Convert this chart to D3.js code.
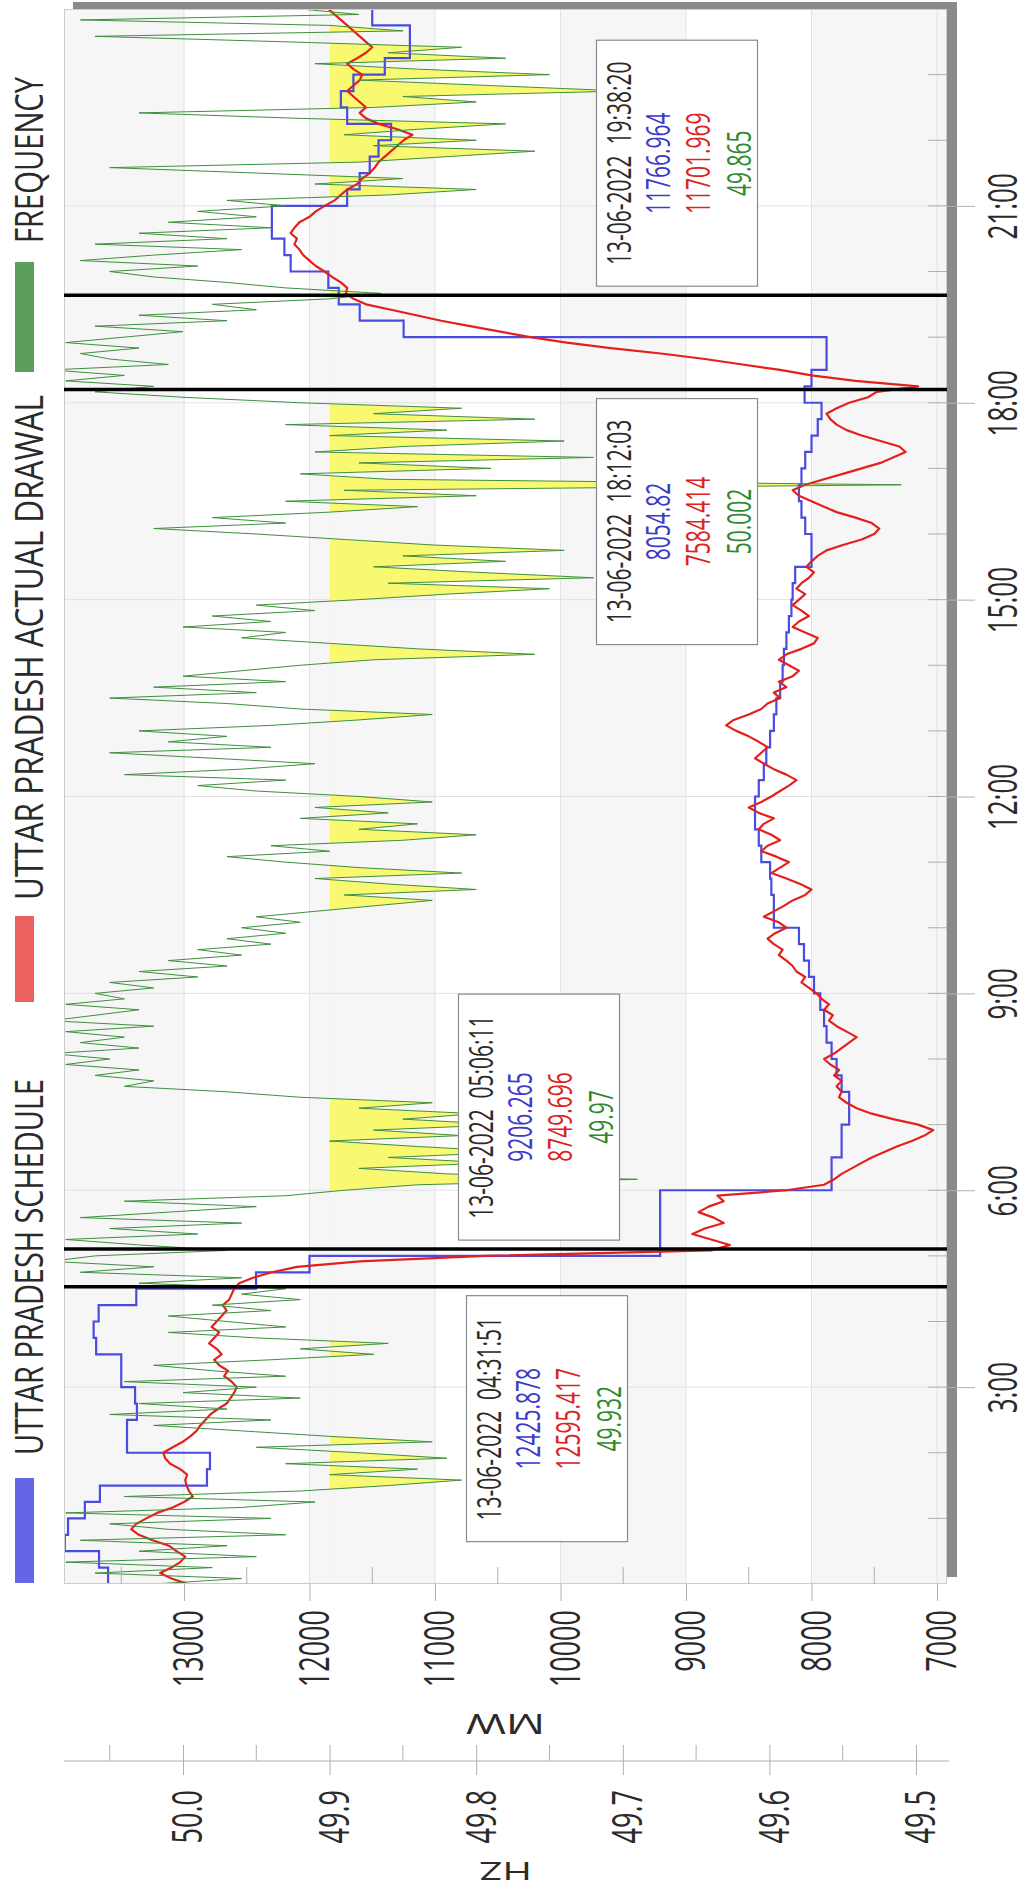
<!DOCTYPE html>
<html><head><meta charset="utf-8">
<script src="https://cdnjs.cloudflare.com/ajax/libs/d3/7.8.5/d3.min.js"></script>
<style>
html,body{margin:0;padding:0;background:#fff;}
svg{display:block;font-family:"Open Sans",sans-serif;}
</style></head><body>
<svg id="c" width="1030" height="1892"></svg>
<script>
// ---------------- DATA ----------------
const seriesNames = ["UTTAR PRADESH SCHEDULE", "UTTAR PRADESH ACTUAL DRAWAL", "FREQUENCY"];
const mwTicks = [7000, 8000, 9000, 10000, 11000, 12000, 13000];
const hzTicks = [49.5, 49.6, 49.7, 49.8, 49.9, 50.0];
const timeTicksMin = [180, 360, 540, 720, 900, 1080, 1260];
const freqThreshold = 49.9;

// schedule, one value per 15-minute block (96 blocks)
const scheduleMW = [
  13605, 13677, 13950, 13924,  13790, 13670, 12817, 12793,
  13454, 13454, 13375, 13390,  13500, 13500, 13700, 13720,
  13680, 13380, 12426, 12000,  9206, 9206, 9206, 9206,
  7840, 7840, 7760, 7760,      7700, 7700, 7760, 7800,
  7840, 7880, 7900, 7930,      7980, 8020, 8060, 8100,
  8300, 8300, 8320, 8330,      8400, 8420, 8450, 8450,
  8420, 8380, 8360, 8330,      8300, 8280, 8250, 8230,
  8220, 8200, 8180, 8160,      8150, 8130, 8000, 8000,
  8050, 8080, 8100, 8080,      8050, 8000, 7950, 7920,
  8055, 8000, 7880, 7880,      11250, 11600, 11767, 11850,
  12150, 12200, 12300, 12300,  11700, 11600, 11520, 11450,
  11350, 11700, 11750, 11650,  11400, 11200, 11200, 11500
];

// actual drawal, every 5 minutes 00:00 .. 24:00
const actualMW = [
  12970,13100,13190,13100,13030,12990,13060,13120,13250,13360,13420,13380,
  13300,13215,13090,13000,12930,12960,12980,12990,12975,13030,13110,13150,
  13165,13090,13010,12950,12900,12870,12830,12790,12730,12660,12630,12600,
  12580,12620,12680,12650,12720,12760,12700,12740,12800,12760,12720,12780,
  12740,12700,12660,12690,12640,12620,12600,12560,12450,12300,12100,11600,
  10600,8800,8650,8800,8950,8850,8700,8780,8900,8820,8700,8750,
  8200,7900,7820,7760,7680,7600,7520,7420,7320,7200,7100,7030,
  7150,7350,7520,7640,7720,7780,7760,7800,7760,7820,7780,7850,
  7900,7820,7760,7700,7640,7720,7800,7860,7830,7900,7860,7920,
  7960,8020,8080,8050,8120,8150,8200,8260,8230,8300,8350,8290,
  8200,8260,8380,8300,8220,8150,8050,8000,8090,8200,8320,8250,
  8180,8280,8400,8350,8250,8320,8420,8380,8300,8420,8500,8400,
  8320,8250,8180,8120,8200,8300,8380,8450,8400,8350,8420,8500,
  8600,8680,8620,8500,8400,8350,8250,8300,8200,8260,8150,8100,
  8180,8260,8200,8080,7980,7950,8050,8150,8100,8020,8080,8150,
  8100,8050,8120,8080,8020,7980,8040,8000,7950,7880,7750,7600,
  7500,7460,7520,7650,7800,7900,8000,8100,8150,8050,7900,7750,
  7600,7450,7350,7250,7300,7450,7600,7720,7800,7850,7880,7800,
  7700,7550,7480,7150,7650,8000,8250,8550,8850,9200,9600,9950,
  10240,10480,10720,10950,11150,11350,11550,11650,11710,11700,11750,11820,
  11880,11950,12000,12050,12080,12120,12100,12150,12120,12080,12000,11950,
  11880,11800,11750,11700,11620,11580,11520,11480,11450,11400,11350,11300,
  11250,11180,11300,11450,11550,11600,11550,11600,11650,11700,11650,11600,
  11580,11650,11700,11620,11550,11500,11550,11600,11650,11700,11750,11800,
  11850
];

// frequency, every 5 minutes 00:00 .. 24:00
const frequencyHz = [
  50.02,49.96,50.06,49.98,50.08,49.95,50.03,49.97,50.07,49.93,50.01,50.05,
  49.94,50.08,49.96,49.91,50.04,49.92,49.86,49.81,49.90,49.84,49.93,49.82,
  49.88,49.95,49.83,49.90,49.96,50.02,49.94,50.05,49.97,50.03,49.92,50.00,
  49.95,50.04,49.93,49.98,50.02,49.94,49.87,49.92,49.86,49.95,50.01,49.93,
  49.97,50.01,49.94,49.98,49.92,49.96,49.93,50.03,49.96,50.07,50.02,50.09,
  50.06,49.97,50.03,50.08,49.99,50.05,49.96,50.07,50.01,49.95,50.04,49.93,
  49.89,49.84,49.69,49.82,49.88,49.79,49.86,49.77,49.84,49.90,49.81,49.87,
  49.78,49.85,49.80,49.88,49.83,49.92,49.97,50.04,50.02,50.06,50.03,50.08,
  50.05,50.09,50.03,50.07,50.04,50.08,50.02,50.09,50.06,50.03,50.08,50.04,
  50.06,50.02,50.05,49.99,50.03,49.97,50.01,49.96,49.99,49.94,49.97,49.93,
  49.96,49.92,49.95,49.91,49.87,49.83,49.89,49.80,49.86,49.91,49.81,49.88,
  49.93,49.97,49.90,49.94,49.85,49.80,49.88,49.84,49.92,49.86,49.91,49.83,
  49.88,49.95,49.99,49.93,50.04,49.96,49.91,49.98,50.05,49.94,50.01,49.97,
  50.03,49.94,49.88,49.83,49.92,49.97,50.05,49.95,50.02,49.93,50.00,49.96,
  49.92,49.87,49.76,49.84,49.90,49.96,49.93,50.00,49.94,49.98,49.91,49.95,
  49.88,49.82,49.75,49.86,49.72,49.80,49.87,49.78,49.85,49.74,49.83,49.89,
  49.95,50.02,49.93,49.98,49.90,49.84,49.93,49.80,49.89,49.51,49.86,49.92,
  49.79,49.88,49.72,49.91,49.85,49.74,49.90,49.82,49.93,49.76,49.87,49.81,
  49.92,50.00,50.06,50.02,50.08,50.04,50.09,50.01,50.05,50.07,50.03,50.08,
  50.04,50.00,50.06,49.97,50.03,49.95,49.98,49.90,49.865,49.93,49.97,50.02,
  50.05,49.99,50.07,50.02,49.96,50.06,49.97,50.03,49.94,50.01,49.95,49.99,
  49.93,49.97,49.86,49.80,49.91,49.85,49.95,50.05,49.88,49.82,49.76,49.87,
  49.80,49.89,49.84,49.78,49.92,50.03,49.87,49.80,49.85,49.70,49.79,49.88,
  49.75,49.84,49.91,49.78,49.86,49.81,49.93,50.06,49.85,49.90,50.07,49.88,
  49.92
];

// annotations (crosshair labels)
const annDate = "13-06-2022";
const annTimes = ["04:31:51", "05:06:11", "18:12:03", "19:38:20"];
const annSchedule = ["12425.878", "9206.265", "8054.82", "11766.964"];
const annActual = ["12595.417", "8749.696", "7584.414", "11701.969"];
const annFreq = ["49.932", "49.97", "50.002", "49.865"];

// ---------------- LAYOUT ----------------
const P = {left: 64, right: 947, top: 9, bottom: 1584};
const STRETCH = 1.55;
const colors = {
  sched: "#4b4be0", act: "#e3201c", freq: "#3f8f3f", yellow: "#f9f871",
  legSched: "#6565e8", legAct: "#ec6060", legFreq: "#5c9e5c", band: "#f6f6f6",
  grid: "#e2e2e2", tick: "#b0b0b0", text: "#2a2a2a"
};
const boxLayout = [
  {cx: 547, side: 1}, {cx: 539, side: -1}, {cx: 677, side: 1}, {cx: 677, side: -1}
];
// legend: symbol top/bottom, text start (bottom end of the rotated text) and its drawn length
const legendLayout = [
  {top: 1478, bottom: 1583, textStart: 1455, textLen: 376, color: colors.legSched},
  {top: 916, bottom: 1002, textStart: 900, textLen: 505, color: colors.legAct},
  {top: 262, bottom: 372, textStart: 243, textLen: 166, color: colors.legFreq}
];

const y = d3.scaleLinear().domain([0, 1440]).range([P.bottom, P.top]);
const xMW = d3.scaleLinear().domain([7000, 13000]).range([937, 184]);
const xHz = d3.scaleLinear().domain([49.5, 50.0]).range([916, 183]);

const svg = d3.select("#c");
const defs = svg.append("defs");
defs.append("clipPath").attr("id", "plotClip").append("rect")
  .attr("x", P.left).attr("y", P.top).attr("width", P.right - P.left).attr("height", P.bottom - P.top);
defs.append("clipPath").attr("id", "lowClip").append("rect")
  .attr("x", xHz(freqThreshold)).attr("y", P.top)
  .attr("width", P.right - xHz(freqThreshold)).attr("height", P.bottom - P.top);

// shadow + plot background
svg.append("rect").attr("x", P.left + 9).attr("y", P.top - 7)
  .attr("width", P.right - P.left + 1).attr("height", P.bottom - P.top).attr("fill", "#8a8a8a");
svg.append("rect").attr("x", P.left).attr("y", P.top)
  .attr("width", P.right - P.left).attr("height", P.bottom - P.top).attr("fill", "#fff");

// alternate bands
const lo = xMW.invert(P.right), hi = xMW.invert(P.left);
const bands = [[lo, 8000], [9000, 10000], [11000, 12000], [13000, hi]];
svg.append("g").selectAll("rect").data(bands).join("rect")
  .attr("x", d => xMW(d[1])).attr("y", P.top)
  .attr("width", d => xMW(d[0]) - xMW(d[1])).attr("height", P.bottom - P.top)
  .attr("fill", colors.band);

// grid lines
svg.append("g").selectAll("line").data(mwTicks).join("line")
  .attr("x1", d => xMW(d)).attr("x2", d => xMW(d)).attr("y1", P.top).attr("y2", P.bottom)
  .attr("stroke", colors.grid).attr("stroke-width", 1);
svg.append("g").selectAll("line").data(timeTicksMin).join("line")
  .attr("x1", P.left).attr("x2", P.right).attr("y1", d => y(d)).attr("y2", d => y(d))
  .attr("stroke", colors.grid).attr("stroke-width", 1);

// series
const freqPts = frequencyHz.map((f, i) => ({t: i * 5, v: f}));
const actPts = actualMW.map((v, i) => ({t: i * 5, v}));
const schedPts = scheduleMW.map((v, i) => ({t: i * 15, v}));
schedPts.push({t: 1440, v: scheduleMW[scheduleMW.length - 1]});

const plot = svg.append("g").attr("clip-path", "url(#plotClip)");
plot.append("g").attr("clip-path", "url(#lowClip)").append("path")
  .datum(freqPts)
  .attr("d", d3.area().y(d => y(d.t)).x0(xHz(freqThreshold)).x1(d => xHz(d.v)))
  .attr("fill", colors.yellow);
plot.append("path").datum(schedPts)
  .attr("d", d3.line().x(d => xMW(d.v)).y(d => y(d.t)).curve(d3.curveStepBefore))
  .attr("fill", "none").attr("stroke", colors.sched).attr("stroke-width", 2.2);
plot.append("path").datum(actPts)
  .attr("d", d3.line().x(d => xMW(d.v)).y(d => y(d.t)))
  .attr("fill", "none").attr("stroke", colors.act).attr("stroke-width", 2.2).attr("stroke-linejoin", "round");
plot.append("path").datum(freqPts)
  .attr("d", d3.line().x(d => xHz(d.v)).y(d => y(d.t)))
  .attr("fill", "none").attr("stroke", colors.freq).attr("stroke-width", 1);

// plot border
svg.append("rect").attr("x", P.left + 0.5).attr("y", P.top + 0.5)
  .attr("width", P.right - P.left - 1).attr("height", P.bottom - P.top - 1)
  .attr("fill", "none").attr("stroke", "#cccccc");

function styleAxis(g, fs) {
  g.attr("font-family", null).attr("font-size", null);
  g.select(".domain").remove();
  g.selectAll(".tick line").attr("stroke", colors.tick);
  g.selectAll(".tick text").attr("fill", colors.text).attr("font-size", fs);
}

// MW axis
const gMW = svg.append("g").attr("transform", `translate(0,${P.bottom})`)
  .call(d3.axisBottom(xMW).tickValues(mwTicks).tickSize(17).tickFormat(d3.format("d")));
styleAxis(gMW, 27);
gMW.selectAll(".tick text").attr("x", 0).attr("y", 0).attr("dy", "0.45em")
  .attr("text-anchor", "end").attr("transform", `translate(0,26) rotate(-90) scale(1,${STRETCH})`);
const mwMinor = d3.range(7500, 14000, 1000);
svg.append("g").selectAll("line").data(mwMinor.filter(v => xMW(v) > P.left)).join("line")
  .attr("x1", d => xMW(d)).attr("x2", d => xMW(d)).attr("y1", P.bottom - 17).attr("y2", P.bottom)
  .attr("stroke", colors.tick);

// time axis (right)
const gT = svg.append("g").attr("transform", `translate(${P.right},0)`)
  .call(d3.axisRight(y).tickValues(timeTicksMin).tickSize(28).tickFormat(d => `${d / 60}:00`));
styleAxis(gT, 26);
gT.selectAll(".tick text").attr("x", 0).attr("y", 0).attr("dy", "0.36em")
  .attr("text-anchor", "middle").attr("transform", `translate(55,0) rotate(-90) scale(1,${STRETCH})`);
svg.append("g").selectAll("line").data(d3.range(60, 1440, 60)).join("line")
  .attr("x1", P.right - 19).attr("x2", P.right).attr("y1", d => y(d)).attr("y2", d => y(d))
  .attr("stroke", colors.tick);

// Hz axis
const hzY = 1761;
svg.append("line").attr("x1", P.left).attr("x2", P.right + 2).attr("y1", hzY).attr("y2", hzY)
  .attr("stroke", "#c8c8c8").attr("stroke-width", 1.5);
const gHz = svg.append("g").attr("transform", `translate(0,${hzY})`)
  .call(d3.axisBottom(xHz).tickValues(hzTicks).tickSize(14).tickFormat(d3.format(".1f")));
styleAxis(gHz, 27);
gHz.selectAll(".tick line").attr("y1", -16).attr("y2", 14);
gHz.selectAll(".tick text").attr("x", 0).attr("y", 0).attr("dy", "0.45em")
  .attr("text-anchor", "end").attr("transform", `translate(0,29) rotate(-90) scale(1,${STRETCH})`);
const hzMinor = [49.55, 49.65, 49.75, 49.85, 49.95, 50.05];
svg.append("g").selectAll("line").data(hzMinor).join("line")
  .attr("x1", d => xHz(d)).attr("x2", d => xHz(d)).attr("y1", hzY - 16).attr("y2", hzY)
  .attr("stroke", colors.tick);

// axis titles (upside down)
svg.append("text").attr("transform", `translate(${(P.left + P.right) / 2},1724) rotate(180) scale(${STRETCH},1)`)
  .attr("text-anchor", "middle").attr("dy", "0.36em").attr("font-size", 28).attr("fill", colors.text).text("MW");
svg.append("text").attr("transform", `translate(${(P.left + P.right) / 2},1871) rotate(180) scale(${STRETCH},1)`)
  .attr("text-anchor", "middle").attr("dy", "0.36em").attr("font-size", 26).attr("fill", colors.text).text("HZ");

// legend
const leg = svg.append("g");
seriesNames.forEach((name, i) => {
  const L = legendLayout[i];
  leg.append("rect").attr("x", 15).attr("y", L.top).attr("width", 19).attr("height", L.bottom - L.top)
    .attr("fill", L.color);
  leg.append("text").attr("transform", `translate(29,${L.textStart}) rotate(-90) scale(1,1.42)`)
    .attr("text-anchor", "start").attr("dy", "0.36em").attr("font-size", 27).attr("fill", colors.text)
    .attr("textLength", L.textLen).attr("lengthAdjust", "spacingAndGlyphs")
    .text(name);
});

// crosshair lines and labels
const toMin = s => { const [h, m, sec] = s.split(":").map(Number); return h * 60 + m + sec / 60; };
const annG = svg.append("g");
annTimes.forEach((ts, i) => {
  const ly = y(toMin(ts));
  annG.append("line").attr("x1", P.left).attr("x2", P.right).attr("y1", ly).attr("y2", ly)
    .attr("stroke", "#000").attr("stroke-width", 3.5);
});
const BW = 161, BH = 246, GAP = 9;
annTimes.forEach((ts, i) => {
  const B = boxLayout[i];
  const ly = y(toMin(ts));
  const cy = B.side > 0 ? ly + GAP + BH / 2 : ly - GAP - BH / 2;
  const x0 = B.cx - BW / 2;
  annG.append("rect").attr("x", x0).attr("y", cy - BH / 2).attr("width", BW).attr("height", BH)
    .attr("fill", "#fff").attr("stroke", "#8a8a8a").attr("stroke-width", 1.2);
  const lines = [
    {t: `${annDate}\u00a0 ${ts}`, c: "#2a2a2a", o: 23},
    {t: annSchedule[i], c: "#3b3bc8", o: 62},
    {t: annActual[i], c: "#dd2222", o: 102},
    {t: annFreq[i], c: "#2f8a2f", o: 143}
  ];
  lines.forEach(l => {
    annG.append("text").attr("transform", `translate(${x0 + l.o},${cy}) rotate(-90) scale(1,${STRETCH})`)
      .attr("text-anchor", "middle").attr("dy", "0.36em").attr("font-size", 21).attr("fill", l.c).text(l.t);
  });
});
</script>
</body></html>
